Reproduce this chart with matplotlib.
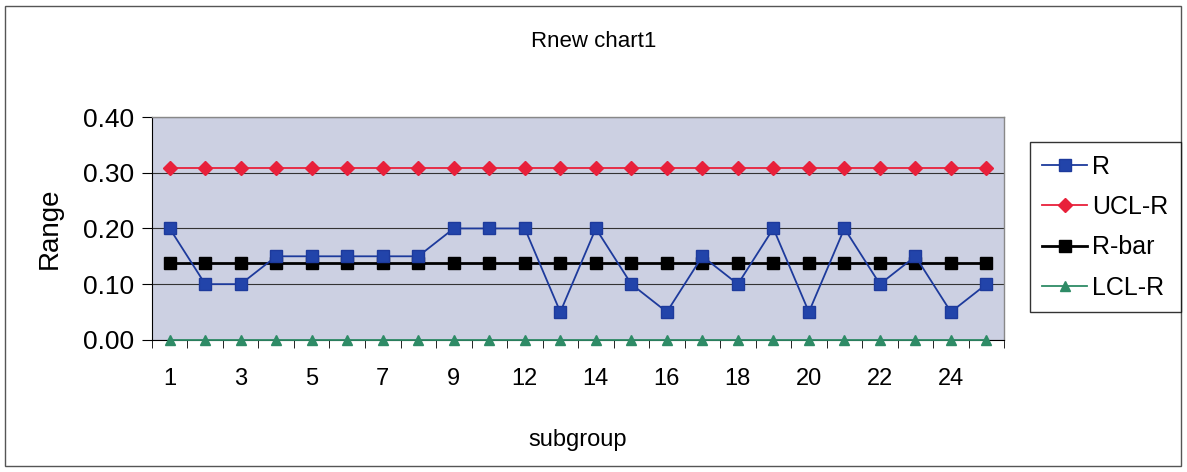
import matplotlib
matplotlib.use("Agg")
import matplotlib.pyplot as plt
from matplotlib.patches import Rectangle
import numpy as np

plt.rcParams['font.family'] = ['Liberation Sans', 'DejaVu Sans']

# subgroup labels as shown on the category axis (11 is not in the data)
subgroups = [1, 2, 3, 4, 5, 6, 7, 8, 9, 10, 12, 13, 14, 15, 16, 17, 18,
             19, 20, 21, 22, 23, 24, 25]
r_values = [0.20, 0.10, 0.10, 0.15, 0.15, 0.15, 0.15, 0.15, 0.20, 0.20, 0.20,
            0.05, 0.20, 0.10, 0.05, 0.15, 0.10, 0.20, 0.05, 0.20, 0.10, 0.15,
            0.05, 0.10]
ucl_r = 0.309
r_bar = 0.1375
lcl_r = 0.0

n = len(subgroups)
x = np.arange(n)

fig = plt.figure(figsize=(11.87, 4.72), dpi=100)
fig.patches.append(Rectangle((0.004, 0.012), 0.991, 0.976, transform=fig.transFigure,
                             fill=False, edgecolor='#555555', linewidth=1.0))

ax = fig.add_axes([0.128, 0.280, 0.718, 0.472])
ax.set_facecolor('#ccd0e2')

ax.plot(x, r_values, color='#1d3a9c', lw=1.3, marker='s', ms=8.5,
        mfc='#2244aa', mec='#1d3a9c', label='R', zorder=4)
ax.plot(x, [ucl_r] * n, color='#e8203a', lw=1.3, marker='D', ms=7,
        mfc='#e8203a', mec='#e8203a', label='UCL-R', zorder=3)
ax.plot(x, [r_bar] * n, color='black', lw=2.0, marker='s', ms=8.5,
        mfc='black', mec='black', label='R-bar', zorder=3)
ax.plot(x, [lcl_r] * n, color='#2e8b66', lw=1.3, marker='^', ms=7.5,
        mfc='#2e8b66', mec='#2e8b66', label='LCL-R', zorder=3, clip_on=False)

ax.set_xlim(-0.5, n - 0.5)
ax.set_ylim(0, 0.40)
ax.set_yticks(np.arange(0, 0.41, 0.10))
ax.set_yticklabels(['{:.2f}'.format(v) for v in np.arange(0, 0.41, 0.10)],
                   fontsize=19)
ax.yaxis.grid(True, color='#333333', lw=0.8)
ax.set_axisbelow(True)

# labels on every other category, tick marks between categories
ax.set_xticks(x[::2])
ax.set_xticklabels([str(s) for s in subgroups[::2]], fontsize=17)
ax.set_xticks(np.arange(-0.5, n, 1.0), minor=True)
ax.tick_params(axis='x', which='major', length=0, pad=20)
ax.tick_params(axis='x', which='minor', length=6, direction='out', color='black')
ax.tick_params(axis='y', length=7, direction='out', pad=6)

for side in ['top', 'right']:
    ax.spines[side].set_color('#888888')
    ax.spines[side].set_linewidth(1.0)
ax.spines['left'].set_color('black')
ax.spines['bottom'].set_color('black')

ax.set_ylabel('Range', fontsize=20, labelpad=14)
ax.set_xlabel('subgroup', fontsize=17, labelpad=28)
fig.text(0.5, 0.913, 'Rnew chart1', ha='center', va='center', fontsize=16,
         fontstretch='condensed')

leg = fig.legend(loc='upper left', bbox_to_anchor=(0.857, 0.725), fontsize=18,
                 frameon=True, fancybox=False, edgecolor='black', handlelength=1.8,
                 labelspacing=0.65, borderpad=0.5, handletextpad=0.2)
leg.get_frame().set_linewidth(1.0)

fig.savefig('out.png', dpi=100)
